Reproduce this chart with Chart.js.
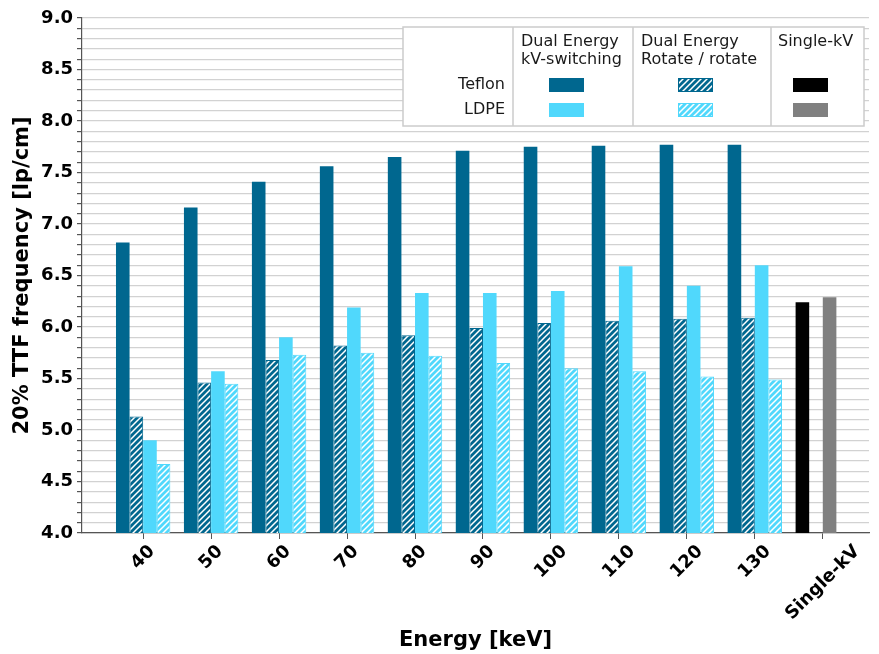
<!DOCTYPE html>
<html>
<head>
<meta charset="utf-8">
<script src="https://cdn.jsdelivr.net/npm/chart.js@4.4.0/dist/chart.umd.min.js"></script>
<style>
  html, body { margin: 0; padding: 0; background: #ffffff; }
  #wrap { width: 879px; height: 654px; }
</style>
</head>
<body>
<div id="wrap"><canvas id="myChart" width="879" height="654"></canvas></div>
<script>
var categories = ['40', '50', '60', '70', '80', '90', '100', '110', '120', '130', 'Single-kV'];

// 20% TTF frequency [lp/cm], one value per energy
var teflonSwitching = [6.82, 7.16, 7.41, 7.56, 7.65, 7.71, 7.75, 7.76, 7.77, 7.77];
var teflonRotate    = [5.13, 5.46, 5.68, 5.82, 5.92, 5.99, 6.04, 6.06, 6.08, 6.09];
var ldpeSwitching   = [4.90, 5.57, 5.90, 6.19, 6.33, 6.33, 6.35, 6.59, 6.40, 6.60];
var ldpeRotate      = [4.67, 5.45, 5.73, 5.75, 5.72, 5.65, 5.60, 5.57, 5.52, 5.49];
var singleKv        = [6.24, 6.29];  // Teflon, LDPE

var yTickLabels = ['4.0', '4.5', '5.0', '5.5', '6.0', '6.5', '7.0', '7.5', '8.0', '8.5', '9.0'];

var DARK = '#00678f';
var LIGHT = '#50d8fc';
var FONT = '"DejaVu Sans", "Liberation Sans", sans-serif';

function hatch(color) {
  var c = document.createElement('canvas');
  c.width = 6;
  c.height = 6;
  var g = c.getContext('2d');
  g.fillStyle = color;
  g.fillRect(0, 0, 6, 6);
  g.strokeStyle = '#ffffff';
  g.lineWidth = 1.5;
  g.beginPath();
  g.moveTo(-1, 7); g.lineTo(7, -1);
  g.moveTo(-1, 1); g.lineTo(1, -1);
  g.moveTo(5, 7); g.lineTo(7, 5);
  g.stroke();
  return g.createPattern(c, 'repeat');
}

var darkHatch = hatch(DARK);
var lightHatch = hatch(LIGHT);

function toPoints(values) {
  return values.map(function(v, i) { return { x: i, y: v }; });
}

function colorsWith(base, last) {
  var list = teflonSwitching.map(function() { return base; });
  list.push(last);
  return list;
}

// the legend is a small table in the upper right corner
var legendTable = {
  id: 'legendTable',
  afterDraw: function(chart) {
    var ctx = chart.ctx;
    var area = chart.chartArea;
    var right = area.right - 5;
    var left = right - 461;
    var top = area.top + 9;
    var h = 99;
    var cols = [left + 110, left + 230, left + 368];

    ctx.save();
    ctx.fillStyle = '#ffffff';
    ctx.fillRect(left, top, right - left, h);
    ctx.strokeStyle = '#cccccc';
    ctx.lineWidth = 1.5;
    ctx.strokeRect(left, top, right - left, h);
    ctx.beginPath();
    cols.forEach(function(x) {
      ctx.moveTo(x, top);
      ctx.lineTo(x, top + h);
    });
    ctx.stroke();

    ctx.fillStyle = '#1a1a1a';
    ctx.font = '16px ' + FONT;
    ctx.textBaseline = 'middle';
    ctx.textAlign = 'left';
    ctx.fillText('Dual Energy', cols[0] + 8, top + 15);
    ctx.fillText('kV-switching', cols[0] + 8, top + 33);
    ctx.fillText('Dual Energy', cols[1] + 8, top + 15);
    ctx.fillText('Rotate / rotate', cols[1] + 8, top + 33);
    ctx.fillText('Single-kV', cols[2] + 7, top + 15);
    ctx.textAlign = 'right';
    ctx.fillText('Teflon', cols[0] - 8, top + 58);
    ctx.fillText('LDPE', cols[0] - 8, top + 83);

    var swatches = [
      [cols[0] + 36, top + 51, DARK, null],
      [cols[0] + 36, top + 76, LIGHT, null],
      [cols[1] + 45, top + 51, darkHatch, DARK],
      [cols[1] + 45, top + 76, lightHatch, LIGHT],
      [cols[2] + 22, top + 51, '#000000', null],
      [cols[2] + 22, top + 76, '#808080', null]
    ];
    swatches.forEach(function(s) {
      ctx.fillStyle = s[2];
      ctx.fillRect(s[0], s[1], 35, 14);
      if (s[3]) {
        ctx.strokeStyle = s[3];
        ctx.lineWidth = 1;
        ctx.strokeRect(s[0] + 0.5, s[1] + 0.5, 34, 13);
      }
    });
    ctx.restore();
  }
};

// x labels turned 45 degrees and centred under their tick
var rotatedLabels = {
  id: 'rotatedLabels',
  afterDraw: function(chart) {
    var ctx = chart.ctx;
    var scale = chart.scales.x;
    var top = scale.top + 10;
    ctx.save();
    ctx.font = 'bold 18px ' + FONT;
    ctx.fillStyle = '#000000';
    ctx.textAlign = 'center';
    ctx.textBaseline = 'middle';
    scale.ticks.forEach(function(tick, i) {
      var text = categories[i];
      var w = ctx.measureText(text).width;
      var half = (w + 16) * Math.SQRT1_2 / 2;
      ctx.save();
      ctx.translate(scale.getPixelForValue(tick.value), top + half);
      ctx.rotate(-Math.PI / 4);
      ctx.fillText(text, 0, 0);
      ctx.restore();
    });
    ctx.restore();
  }
};

var chart = new Chart(document.getElementById('myChart'), {
  type: 'bar',
  data: {
    datasets: [
      {
        label: 'Teflon kV-switching',
        data: toPoints(teflonSwitching.concat([singleKv[0]])),
        backgroundColor: colorsWith(DARK, '#000000'),
        borderWidth: 0
      },
      {
        label: 'Teflon rotate / rotate',
        data: toPoints(teflonRotate),
        backgroundColor: darkHatch,
        borderColor: DARK,
        borderWidth: 1
      },
      {
        label: 'LDPE kV-switching',
        data: toPoints(ldpeSwitching.concat([singleKv[1]])),
        backgroundColor: colorsWith(LIGHT, '#808080'),
        borderWidth: 0
      },
      {
        label: 'LDPE rotate / rotate',
        data: toPoints(ldpeRotate),
        backgroundColor: lightHatch,
        borderColor: LIGHT,
        borderWidth: 1
      }
    ]
  },
  options: {
    responsive: false,
    animation: false,
    events: [],
    devicePixelRatio: 1,
    categoryPercentage: 0.8,
    barPercentage: 1.0,
    layout: {
      padding: { left: 0, top: 18, right: 10, bottom: 0 }
    },
    scales: {
      x: {
        type: 'linear',
        min: -0.9,
        max: 10.68,
        offset: false,
        afterBuildTicks: function(scale) {
          scale.ticks = categories.map(function(c, i) { return { value: i }; });
        },
        afterFit: function(scale) {
          scale.height = 121;
        },
        ticks: { display: false },
        grid: {
          offset: false,
          drawOnChartArea: false,
          drawTicks: true,
          tickLength: 6,
          tickColor: '#555555',
          tickWidth: 1
        },
        border: { display: true, color: '#555555', width: 1.2 },
        title: {
          display: true,
          text: 'Energy [keV]',
          color: '#000000',
          font: { family: FONT, size: 21, weight: 'bold' },
          padding: { top: 0, bottom: 1 }
        }
      },
      y: {
        min: 4,
        max: 9,
        afterBuildTicks: function(scale) {
          var ticks = [];
          for (var k = 40; k <= 90; k++) {
            ticks.push({ value: k / 10 });
          }
          scale.ticks = ticks;
        },
        afterFit: function(scale) {
          scale.width = 82;
        },
        ticks: {
          autoSkip: false,
          padding: 4,
          color: '#000000',
          font: { family: FONT, size: 18, weight: 'bold' },
          callback: function(value) {
            var i = Math.round((value - 4) * 2);
            return Math.abs((value - 4) * 2 - i) < 1e-6 ? yTickLabels[i] : '';
          }
        },
        grid: {
          color: '#d2d2d2',
          lineWidth: 1.2,
          tickLength: 5,
          tickColor: '#555555'
        },
        border: { display: true, color: '#555555', width: 1.2 },
        title: {
          display: true,
          text: '20% TTF frequency [lp/cm]',
          color: '#000000',
          font: { family: FONT, size: 21, weight: 'bold' },
          padding: { top: 10, bottom: 0 }
        }
      }
    },
    plugins: {
      legend: { display: false },
      tooltip: { enabled: false }
    }
  },
  plugins: [legendTable, rotatedLabels]
});
</script>
</body>
</html>
